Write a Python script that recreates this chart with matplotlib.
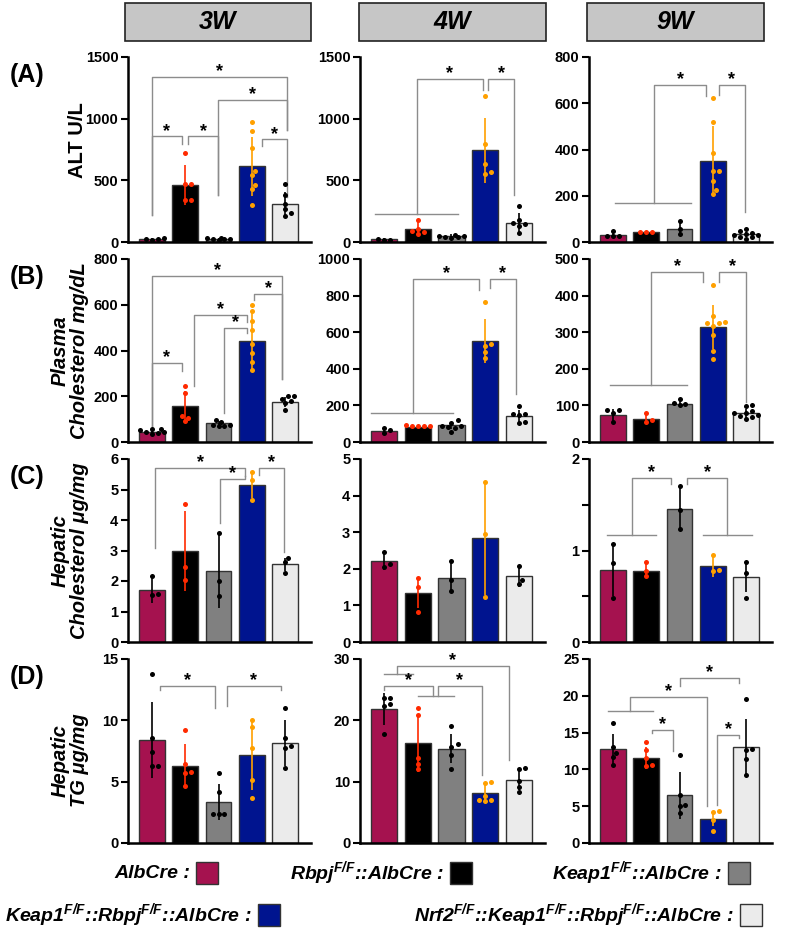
import numpy as np
import matplotlib

matplotlib.use("Agg")
import matplotlib.pyplot as plt  # noqa: E402
from matplotlib.patches import Rectangle  # noqa: E402

plt.rcParams["font.family"] = ["Liberation Sans", "DejaVu Sans"]
plt.rcParams["mathtext.fontset"] = "custom"
plt.rcParams["mathtext.it"] = "Liberation Sans:italic:bold"
plt.rcParams["mathtext.rm"] = "Liberation Sans:bold"

WEEKS = ["3W", "4W", "9W"]
SUP = r"$^{\mathregular{F/F}}$"
GROUPS = [
    "AlbCre :",
    f"Rbpj{SUP}::AlbCre :",
    f"Keap1{SUP}::AlbCre :",
    f"Keap1{SUP}::Rbpj{SUP}::AlbCre :",
    f"Nrf2{SUP}::Keap1{SUP}::Rbpj{SUP}::AlbCre :",
]
BAR_COLORS = ["#a5124f", "#000000", "#808080", "#00148f", "#ebebeb"]
DOT_COLORS = ["#000000", "#ff2a00", "#000000", "#ffa000", "#000000"]

# ---- (A) ALT U/L ----
alt_mean = [[25, 462, 27, 614, 308], [22, 105, 46, 743, 154], [32, 42, 58, 352, 33]]
alt_sd = [[8, 160, 8, 237, 97], [10, 57, 15, 262, 80], [15, 3, 27, 150, 12]]
alt_dots = [
    [[18, 25, 30, 22], [722, 468, 473, 338, 343], [20, 25, 35, 28, 22, 30],
     [973, 900, 759, 576, 541, 459, 427, 297], [473, 384, 311, 270, 235, 211]],
    [[15, 27, 16], [176, 108, 89, 68, 81], [35, 45, 60, 40, 50, 38],
     [1181, 797, 635, 568, 549], [289, 176, 154, 127, 73, 143]],
    [[48, 28, 25, 28], [44, 44, 44], [90, 57, 36],
     [621, 519, 383, 305, 305, 262, 225, 208], [58, 48, 39, 29, 22, 15, 22, 36, 29]],
]
alt_ticks = [[0, 500, 1000, 1500], [0, 500, 1000, 1500], [0, 200, 400, 600, 800]]
# brackets: (x1, x2, y, left leg end, right leg end); groups: (x1, x2, y)
alt_brackets = [
    [(0, 4.07, 1338, 216, 905), (1.98, 4.07, 1154, 378, 905), (3.31, 4.07, 832, 776, 365),
     (0, 0.89, 857, 216, 797), (1.09, 1.98, 857, 792, 378)],
    [(0.98, 2.93, 1324, 230, 1230), (3.10, 3.86, 1324, 1235, 378)],
    [(1.23, 2.80, 681, 170, 633), (3.18, 3.96, 681, 636, 131)],
]
alt_groups = [[], [(-0.26, 2.19, 230)], [(0.07, 2.36, 170)]]

# ---- (B) Plasma cholesterol mg/dL ----
pchol_mean = [[44, 157, 81, 443, 176], [60, 82, 91, 551, 140], [73, 64, 105, 314, 78]]
pchol_sd = [[10, 65, 12, 125, 22], [14, 5, 20, 120, 35], [16, 15, 10, 60, 12]]
pchol_dots = [
    [[59, 51, 43, 40, 37, 59, 45], [245, 213, 113, 106, 91], [98, 87, 76, 75, 69, 72],
     [598, 571, 527, 488, 429, 389, 348, 314], [201, 201, 189, 172, 142, 180]],
    [[78, 64, 49], [95, 85, 85, 85, 85], [118, 104, 85, 82, 78, 55, 90],
     [764, 527, 533, 491, 460], [195, 155, 155, 145, 104, 109]],
    [[87, 87, 78, 54], [80, 61, 54], [118, 107, 100, 105],
     [430, 344, 328, 326, 318, 326, 293, 250, 228], [100, 98, 84, 80, 78, 72, 69, 63, 75]],
]
pchol_ticks = [[0, 200, 400, 600, 800], [0, 200, 400, 600, 800, 1000], [0, 100, 200, 300, 400, 500]]
pchol_brackets = [
    [(0, 3.92, 725, 69, 275), (3.08, 3.92, 649, 620, 275), (1.26, 2.86, 557, 245, 524),
     (2.17, 2.86, 498, 128, 477), (0, 0.89, 345, 69, 311)],
    [(0.85, 2.83, 891, 158, 831), (3.13, 3.91, 891, 842, 260)],
    [(1.15, 2.72, 465, 156, 438), (3.20, 4.01, 465, 438, 110)],
]
pchol_groups = [[], [(-0.40, 2.04, 158)], [(-0.08, 2.22, 156)]]

# ---- (C) Hepatic cholesterol ug/mg ----
hchol_mean = [[1.71, 2.99, 2.34, 5.15, 2.55], [2.20, 1.34, 1.76, 2.83, 1.79],
              [0.79, 0.78, 1.45, 0.83, 0.71]]
hchol_sd = [[0.42, 1.32, 1.22, 0.42, 0.22], [0.23, 0.40, 0.41, 1.55, 0.28],
            [0.29, 0.08, 0.24, 0.12, 0.16]]
hchol_dots = [
    [[2.16, 1.57, 1.54], [4.52, 2.47, 2.03], [3.56, 2.01, 1.51], [5.57, 5.30, 4.64], [2.77, 2.63, 2.27]],
    [[2.46, 2.14, 2.05], [1.74, 1.50, 0.81], [2.20, 1.70, 1.40], [4.38, 2.94, 1.24], [2.08, 1.70, 1.59]],
    [[1.07, 0.86, 0.48], [0.87, 0.78, 0.72], [1.70, 1.44, 1.23], [0.95, 0.78, 0.79], [0.87, 0.75, 0.48]],
]
hchol_ticks = [[0, 1, 2, 3, 4, 5, 6], [0, 1, 2, 3, 4, 5], [0, 0.5, 1, 1.5, 2]]
hchol_brackets = [
    [(0.10, 2.79, 5.70, 3.07, 5.43), (2.05, 2.79, 5.34, 3.89, 5.43), (3.23, 3.97, 5.70, 5.48, 2.96)],
    [],
    [(0.56, 1.75, 1.79, 1.17, 1.73), (2.24, 3.43, 1.79, 1.73, 1.17)],
]
hchol_groups = [[], [], [(-0.18, 1.28, 1.17), (2.70, 4.17, 1.17)]]

# ---- (D) Hepatic TG ug/mg ----
tg_mean = [[8.42, 6.30, 3.34, 7.15, 8.15], [21.9, 16.3, 15.4, 8.15, 10.3],
           [12.77, 11.55, 6.48, 3.26, 13.0]]
tg_sd = [[3.1, 1.75, 1.5, 2.85, 1.85], [2.6, 4.8, 2.3, 1.4, 1.6], [2.1, 1.45, 3.2, 1.0, 3.9]]
tg_dots = [
    [[13.8, 8.56, 7.39, 6.30, 6.30], [9.24, 6.47, 5.76, 5.71, 4.62], [5.71, 4.16, 2.39, 2.39, 2.39],
     [10.05, 9.43, 7.74, 5.16, 3.67], [11.0, 8.56, 7.88, 7.74, 6.11]],
    [[23.6, 23.6, 22.6, 22.4, 17.7], [22.0, 20.9, 13.9, 12.9, 12.1], [19.0, 15.7, 16.2, 14.4, 12.1],
     [9.9, 9.8, 7.7, 7.0, 6.8, 7.0], [12.2, 12.0, 10.1, 9.2, 8.3]],
    [[16.3, 13.1, 12.2, 11.7, 10.6], [13.7, 12.7, 11.5, 10.6, 10.5], [11.9, 6.57, 5.12, 4.98, 4.08],
     [4.30, 4.17, 3.17, 1.59], [19.6, 12.7, 12.8, 11.4, 9.3]],
]
tg_ticks = [[0, 5, 10, 15], [0, 10, 20, 30], [0, 5, 10, 15, 20, 25]]
tg_brackets = [
    [(0.25, 1.88, 12.83, 12.5, 11.0), (2.25, 3.87, 12.83, 11.14, 12.5)],
    [(0.37, 3.71, 28.9, 27.6, 13.6), (0, 1.45, 25.6, 24.9, 24.0), (1.59, 2.90, 25.6, 24.0, 11.1)],
    [(0.52, 2.84, 19.8, 18.0, 4.98), (2.01, 3.80, 22.4, 21.3, 21.7),
     (1.17, 1.81, 15.4, 14.9, 12.5), (3.14, 3.80, 14.7, 5.2, 14.3)],
]
tg_groups = [[], [(0, 0.85, 27.6), (1.01, 2.06, 24.0)], [(-0.14, 1.20, 18.0)]]

PANELS = [
    ("(A)", "ALT U/L", alt_mean, alt_sd, alt_dots, alt_ticks, alt_brackets, alt_groups),
    ("(B)", "Plasma\nCholesterol mg/dL", pchol_mean, pchol_sd, pchol_dots, pchol_ticks,
     pchol_brackets, pchol_groups),
    ("(C)", "Hepatic\nCholesterol μg/mg", hchol_mean, hchol_sd, hchol_dots, hchol_ticks,
     hchol_brackets, hchol_groups),
    ("(D)", "Hepatic\nTG μg/mg", tg_mean, tg_sd, tg_dots, tg_ticks, tg_brackets, tg_groups),
]

W, H = 790, 940
COL_LEFT = [128, 360, 589]
COL_W = [183, 185, 183]
ROW_TOP = [57, 259, 459, 659]
ROW_BOT = [242, 442, 642, 843]
BRACKET_COLOR = "#8c8c8c"


def swarm_offsets(vals, ymax, px_h=184.0, px_unit=33.3, d=5.0):
    # simple beeswarm: push dots sideways until they stop overlapping
    ypx = np.asarray(vals, dtype=float) / ymax * px_h
    offs = np.zeros(len(ypx))
    placed = []
    cands = [0.0]
    for k in range(1, 5):
        cands += [k * 0.6 * d, -k * 0.6 * d]
    for i in np.argsort(ypx):
        best, best_gap = 0.0, -1.0
        for cx in cands:
            gap = min([np.hypot(cx - px, ypx[i] - py) for px, py in placed] or [99.0])
            if gap >= 0.9 * d:
                best = cx
                break
            if gap > best_gap:
                best, best_gap = cx, gap
        placed.append((best, ypx[i]))
        offs[i] = best / px_unit
    return offs


def draw_panel(ax, mean, sd, dots, ticks, brackets, groups):
    xs = np.arange(len(mean))
    ax.bar(xs, mean, width=0.78, color=BAR_COLORS, edgecolor="#333333", linewidth=1.0, zorder=2)
    ymax = ticks[-1]
    for i in xs:
        ax.errorbar(i, mean[i], yerr=sd[i], fmt="none", ecolor=DOT_COLORS[i],
                    elinewidth=1.2, capsize=0, zorder=3)
        off = swarm_offsets(dots[i], ymax)
        ax.scatter(i + off, dots[i], s=13, color=DOT_COLORS[i], zorder=4, linewidths=0)
    for x1, x2, y in groups:
        ax.plot([x1, x2], [y, y], color=BRACKET_COLOR, lw=1.0, zorder=1, clip_on=False)
    for x1, x2, y, e1, e2 in brackets:
        ax.plot([x1, x1, x2, x2], [e1, y, y, e2], color=BRACKET_COLOR, lw=1.0,
                zorder=1, clip_on=False)
        ax.annotate("*", ((x1 + x2) / 2, y), xytext=(0, 0.5), textcoords="offset points",
                    ha="center", va="baseline", fontsize=13, fontweight="bold")
    ax.set_xlim(-0.72, 4.78)
    ax.set_ylim(0, ymax)
    ax.set_xticks([])
    ax.set_yticks(ticks)
    labels = ["%g" % t for t in ticks]
    if ticks[1] == 0.5:
        labels = ["%g" % t if float(t).is_integer() else "" for t in ticks]
    ax.set_yticklabels(labels, fontsize=10.5, fontweight="bold")
    ax.tick_params(axis="y", direction="out", length=5, width=1.5, pad=2)
    for s in ["top", "right"]:
        ax.spines[s].set_visible(False)
    for s in ["left", "bottom"]:
        ax.spines[s].set_linewidth(1.8)


fig = plt.figure(figsize=(W / 100, H / 100), dpi=100)

for r, (plabel, ylabel, mean, sd, dots, ticks, brackets, groups) in enumerate(PANELS):
    for c in range(3):
        ax = fig.add_axes([COL_LEFT[c] / W, 1 - ROW_BOT[r] / H, COL_W[c] / W,
                           (ROW_BOT[r] - ROW_TOP[r]) / H])
        draw_panel(ax, mean[c], sd[c], dots[c], ticks[c], brackets[c], groups[c])
        if c == 0:
            style = "normal" if r == 0 else "italic"
            ax.set_ylabel(ylabel, fontsize=14.5, fontweight="bold", fontstyle=style,
                          linespacing=1.0)
            ycen = 0.55 if r == 0 else (0.45 if r == 3 else 0.5)
            ax.yaxis.set_label_coords(-0.225 if r == 0 else -0.215, ycen)
    fig.text(10 / W, 1 - (ROW_TOP[r] + 18) / H, plabel, fontsize=18, fontweight="bold",
             ha="left", va="center")

# week header boxes
for (x0, x1), wk in zip([(125, 311), (359, 546), (587, 764)], WEEKS):
    fig.patches.append(Rectangle((x0 / W, 1 - 41 / H), (x1 - x0) / W, 38 / H,
                                 transform=fig.transFigure, facecolor="#c6c6c6",
                                 edgecolor="#222222", linewidth=1.2))
    fig.text((x0 + x1) / 2 / W, 1 - 22 / H, wk, fontsize=18, fontweight="bold",
             fontstyle="italic", ha="center", va="center")

# legend
legend_pos = [(196, 873), (450, 873), (728, 873), (258, 915), (740, 915)]
for (sx, sy), lab, col in zip(legend_pos, GROUPS, BAR_COLORS):
    fig.patches.append(Rectangle((sx / W, 1 - (sy + 11) / H), 22 / W, 22 / H,
                                 transform=fig.transFigure, facecolor=col,
                                 edgecolor="#333333", linewidth=1.0))
    fig.text((sx - 6) / W, 1 - sy / H, lab, fontsize=14, fontweight="bold",
             fontstyle="italic", ha="right", va="center")

fig.savefig("out.png", dpi=100)
